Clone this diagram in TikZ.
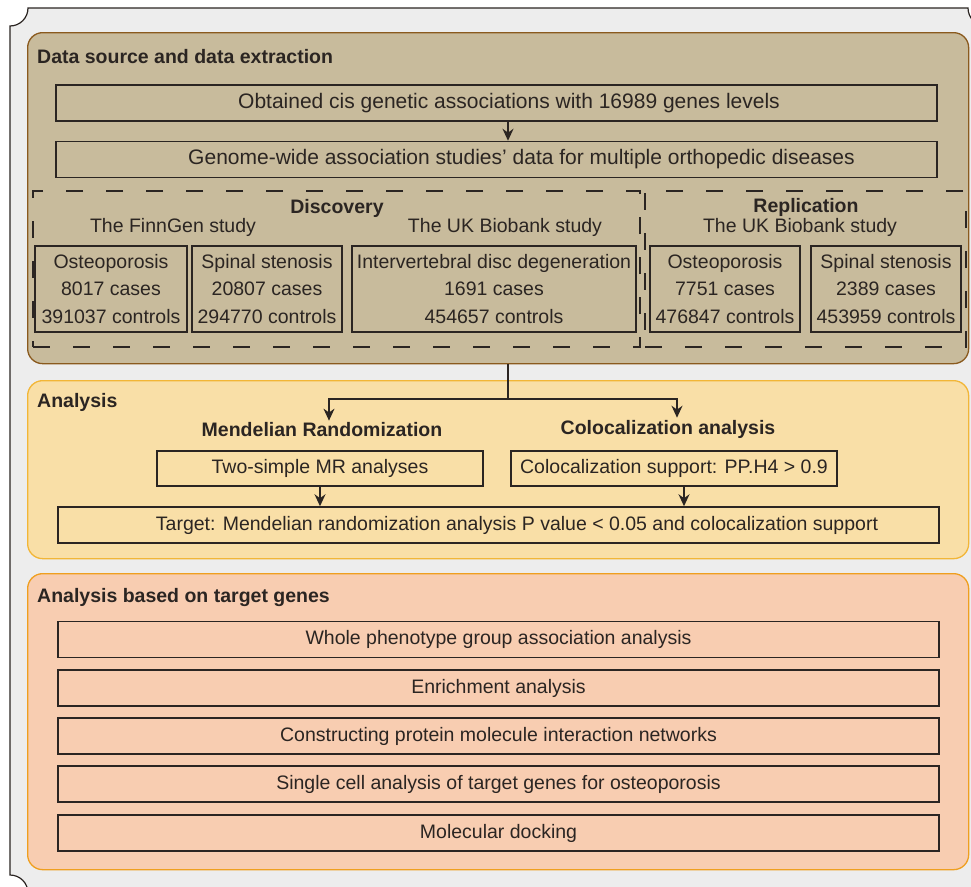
\documentclass[tikz,border=0pt]{standalone}
\usepackage{fontspec}
\setmainfont{Liberation Sans}
\usepackage{xcolor}
\usetikzlibrary{calc, positioning, arrows.meta}
\definecolor{pagegray}{HTML}{EDEDED}
\definecolor{inkdark}{HTML}{2B2522}
\definecolor{tanfill}{HTML}{C8BB9C}
\definecolor{tanline}{HTML}{8A5A1E}
\definecolor{sandfill}{HTML}{F9DFA7}
\definecolor{sandline}{HTML}{F2B637}
\definecolor{peachfill}{HTML}{F8CDB1}
\definecolor{peachline}{HTML}{EF9F1F}
\tikzset{
    pipeline/.style={
        x=1pt, y=-1pt,
        font=\fontsize{19.5}{23}\selectfont,
        text=inkdark,
        >={Stealth[length=12pt, width=11pt]},
        section/.style={draw, rounded corners=15pt, line width=1.3pt, anchor=north west, inner sep=0pt, minimum width=941pt},
        sectitle/.style={anchor=west, inner sep=0pt, font=\fontsize{19.5}{23}\selectfont\bfseries},
        heading/.style={inner sep=2pt, font=\fontsize{19.5}{23}\selectfont\bfseries},
        block/.style={draw=inkdark, line width=1.5pt, rectangle, inner sep=0pt, minimum height=36pt, align=center},
        cohort/.style={block, minimum height=86pt, font=\fontsize{19.5}{27.5}\selectfont},
        groupbox/.style={draw=inkdark, line width=1.4pt, dash pattern=on 17pt off 23pt, rectangle, inner sep=0pt, minimum height=156pt},
        arrow/.style={draw=inkdark, line width=1.5pt, ->}
    }
}
\begin{document}
\begin{tikzpicture}[pipeline]
        \useasboundingbox (0,0) rectangle (971,886);
        \clip (0,0) rectangle (971,886);
        \fill[white] (0,0) rectangle (971,886);

        % Outer frame
        \filldraw[fill=pagegray, draw=inkdark, line width=1.2pt]
            (10,26) -- (10,875) arc[start angle=90, end angle=0, radius=18pt]
            -- (1000,893) -- (1000,26) -- (986,26) arc[start angle=270, end angle=180, radius=18pt]
            -- (28,8) arc[start angle=0, end angle=-90, radius=18pt] -- cycle;

        % Sections
        \node[section, fill=tanfill, draw=tanline, minimum height=331pt] (sec1) at (27,32) {};
        \node[section, fill=sandfill, draw=sandline, minimum height=178pt] (sec2) at (27,380) {};
        \node[section, fill=peachfill, draw=peachline, minimum height=296pt] (sec3) at (27,573) {};

        \node[sectitle] (title1) at (37,57) {Data source and data extraction};
        \node[sectitle] (title2) at (37,402) {Analysis};
        \node[sectitle] (title3) at (37,597) {Analysis based on target genes};

        % Data source
        \node[block, minimum width=881pt, font=\fontsize{21}{25}\selectfont] (obtain) at (496.5,103) {\hspace*{25pt}Obtained cis genetic associations with 16989 genes levels};
        \node[block, minimum width=881pt, font=\fontsize{21}{25}\selectfont] (gwas) at (496.5,159.5) {\hspace*{50pt}Genome-wide association studies’ data for multiple orthopedic diseases};

        \node[groupbox, minimum width=607pt] (discovery) at (336.5,269) {};
        \node[groupbox, minimum width=321pt] (replication) at (805.5,269) {};

        \node[heading] (dischead) at (337,208) {Discovery};
        \node[heading] (rephead) at (806,207) {Replication};
        \node (finngen) at (173,227) {The FinnGen study};
        \node (ukbdis) at (505,227) {The UK Biobank study};
        \node (ukbrep) at (800,227) {The UK Biobank study};

        \node[cohort, minimum width=152pt] (fgost) at (111,289) {Osteoporosis\\8017 cases\\391037 controls};
        \node[cohort, minimum width=150pt] (fgspin) at (267,289) {Spinal stenosis\\20807 cases\\294770 controls};
        \node[cohort, minimum width=284pt] (ukidd) at (494,289) {Intervertebral disc degeneration\\1691 cases\\454657 controls};
        \node[cohort, minimum width=150pt] (ukost) at (725,289) {Osteoporosis\\7751 cases\\476847 controls};
        \node[cohort, minimum width=150pt] (ukspin) at (886,289) {Spinal stenosis\\2389 cases\\453959 controls};

        % Analysis
        \node[heading] (mrhead) at (322,430) {Mendelian Randomization};
        \node[heading] (cohead) at (668,429) {Colocalization analysis};
        \node[block, minimum width=326pt, minimum height=35pt] (mrbox) at (320,468.5) {Two-simple MR analyses};
        \node[block, minimum width=326pt, minimum height=35pt] (cobox) at (674,468.5) {Colocalization support: PP.H4 > 0.9};
        \node[block, minimum width=881pt] (target) at (498.5,525) {\hspace*{37pt}Target: Mendelian randomization analysis P value < 0.05 and colocalization support};

        % Target genes
        \foreach \n/\y/\txt in {1/639.5/Whole phenotype group association analysis,
                                2/688/Enrichment analysis,
                                3/736/Constructing protein molecule interaction networks,
                                4/784/Single cell analysis of target genes for osteoporosis,
                                5/833/Molecular docking} {
            \node[block, minimum width=881pt] (gene\n) at (498.5,\y) {\txt};
        }

        % Arrows
        \coordinate (split) at (508,399);
        \draw[arrow] (obtain.south -| split) -- (gwas.north -| split);
        \draw[arrow] (sec1.south -| split) -- (split) -| ([xshift=7pt]mrhead.north);
        \draw[arrow] (split) -| ([xshift=9pt]cohead.north);
        \draw[arrow] (mrbox.south) -- (mrbox.south |- target.north);
        \draw[arrow] ([xshift=10pt]cobox.south) -- ([xshift=10pt]cobox.south |- target.north);

    \end{tikzpicture}
\end{document}
